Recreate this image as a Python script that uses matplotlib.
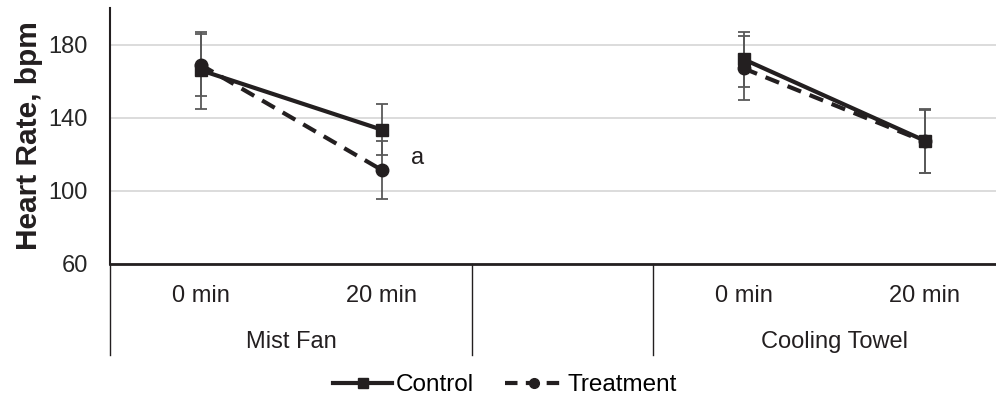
import numpy as np
import matplotlib.pyplot as plt
from matplotlib.lines import Line2D

plt.rcParams['font.family'] = ['Liberation Sans', 'DejaVu Sans']

# data: positions 0,1 = Mist Fan; 2 = empty gap; 3,4 = Cooling Towel
tick_labels = ['0 min', '20 min', '', '0 min', '20 min']
groups = ['Mist Fan', '', 'Cooling Towel']
control = [166, 133.5, np.nan, 172, 127.5]
control_err = [21, 14, np.nan, 15, 17.5]
treatment = [169, 111.5, np.nan, 167, 127]
treatment_err = [17, 16, np.nan, 17.5, 17]

dark = '#231f20'
grey = '#595959'

fig = plt.figure(figsize=(9.96, 4.0), dpi=100)
ax = fig.add_axes([110 / 996, 1 - 264 / 400, 905 / 996, 256 / 400])

x = np.arange(len(tick_labels))

for lo, hi in [(0, 2), (3, 5)]:
    xs = x[lo:hi]
    ax.errorbar(xs, control[lo:hi], yerr=control_err[lo:hi], fmt='none',
                ecolor=grey, elinewidth=1.3, capsize=4, capthick=1.3, zorder=2)
    ax.errorbar(xs, treatment[lo:hi], yerr=treatment_err[lo:hi], fmt='none',
                ecolor=grey, elinewidth=1.3, capsize=4, capthick=1.3, zorder=2)
    ax.plot(xs, control[lo:hi], color=dark, lw=3, marker='s', ms=8.5,
            solid_capstyle='butt', zorder=3)
    ax.plot(xs, treatment[lo:hi], color=dark, lw=3, ls=(0, (3.5, 2.2)),
            marker='o', ms=9, zorder=4)

ax.text(1.2, 118, 'a', fontsize=17, color=dark, ha='center', va='center')

ax.set_ylim(60, 200)
ax.set_yticks([60, 100, 140, 180])
ax.set_xlim(-0.5, 4.5)
ax.set_xticks([])
ax.grid(axis='y', color='#d9d9d9', lw=1.3)
ax.set_axisbelow(True)
for s in ['top', 'right']:
    ax.spines[s].set_visible(False)
ax.spines['left'].set_color(dark)
ax.spines['bottom'].set_color(dark)
ax.spines['left'].set_linewidth(1.5)
ax.spines['bottom'].set_linewidth(2)
ax.tick_params(axis='y', length=0, labelsize=17, colors='#262626', pad=16)
ax.set_ylabel('Heart Rate, bpm', fontsize=21.5, fontweight='bold', color=dark,
              labelpad=4)

trans = ax.get_xaxis_transform()
for xi, lab in zip(x, tick_labels):
    if lab:
        ax.text(xi, -0.125, lab, transform=trans, ha='center', va='center',
                fontsize=17, color=dark)
for gi, g in enumerate(groups):
    cx = [0.5, 2, 3.5][gi]
    if g:
        ax.text(cx, -0.305, g, transform=trans, ha='center', va='center',
                fontsize=17, color=dark)
for sx in [-0.5, 1.5, 2.5]:
    ax.add_line(Line2D([sx, sx], [0, -0.355], transform=trans, color=dark,
                       lw=1, clip_on=False))

handles = [
    Line2D([], [], color=dark, lw=3, marker='s', ms=7),
    Line2D([], [], color=dark, lw=3, ls=(0, (3, 2)), marker='o', ms=7),
]
fig.legend(handles, ['Control', 'Treatment'], loc='center',
           bbox_to_anchor=(505 / 996, 1 - 385 / 400), ncol=2, frameon=False,
           fontsize=17.5, handlelength=2.4, columnspacing=1.3, handletextpad=0.15)

fig.savefig('out.png', dpi=100)
